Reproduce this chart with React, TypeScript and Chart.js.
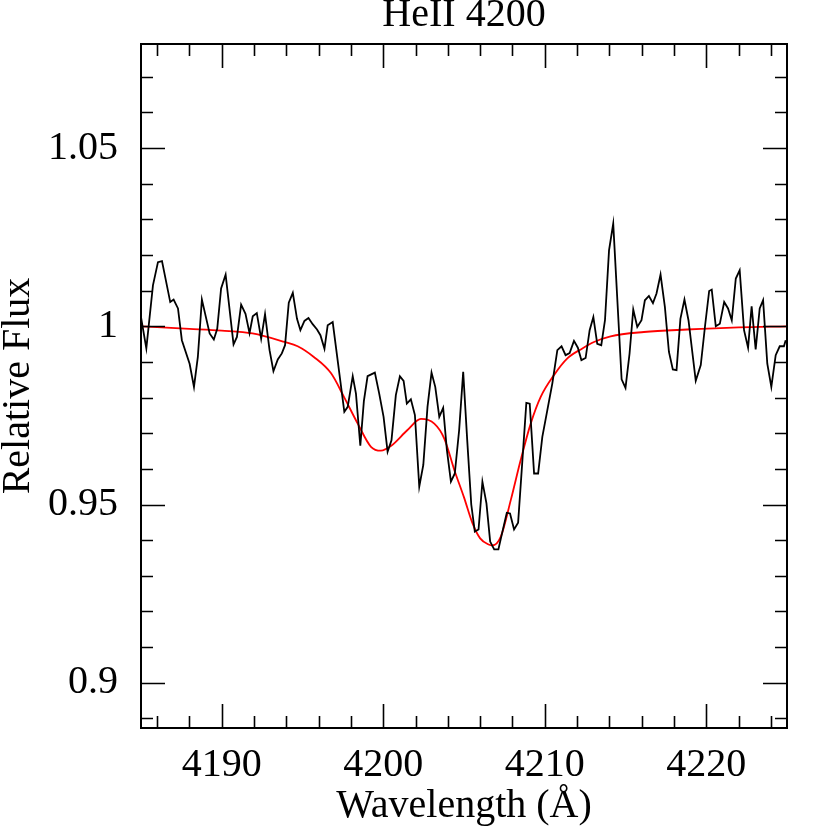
import React, { useEffect, useRef } from "react";
import { Chart, registerables } from "chart.js";

Chart.register(...registerables);

const titleText = "HeII 4200";
const xTitle = "Wavelength (Å)";
const yTitle = "Relative Flux";

const obsWave = [
  4185.0, 4185.33, 4185.74, 4186.05, 4186.3, 4186.81, 4187.02, 4187.29, 4187.53, 4188.01,
  4188.28, 4188.52, 4188.77, 4189.25, 4189.51, 4189.72, 4189.96, 4190.24, 4190.73, 4190.94,
  4191.2, 4191.47, 4191.72, 4191.92, 4192.17, 4192.44, 4192.68, 4192.96, 4193.2, 4193.47,
  4193.72, 4193.92, 4194.15, 4194.4, 4194.66, 4194.87, 4195.12, 4195.37, 4195.63, 4195.9,
  4196.11, 4196.36, 4196.56, 4196.87, 4197.59, 4197.8, 4198.11, 4198.31, 4198.58, 4198.8,
  4199.03, 4199.48, 4199.75, 4200.02, 4200.27, 4200.51, 4200.78, 4201.03, 4201.26, 4201.46,
  4201.71, 4201.96, 4202.23, 4202.48, 4202.74, 4202.99, 4203.22, 4203.47, 4203.71, 4203.94,
  4204.19, 4204.43, 4204.7, 4204.95, 4205.2, 4205.45, 4205.67, 4205.9, 4206.14, 4206.39,
  4206.62, 4206.87, 4207.13, 4207.38, 4207.65, 4207.85, 4208.1, 4208.35, 4208.86, 4209.07,
  4209.34, 4209.59, 4209.85, 4210.16, 4210.47, 4210.78, 4211.04, 4211.29, 4211.54, 4211.81,
  4212.05, 4212.27, 4212.53, 4212.78, 4213.01, 4213.25, 4213.5, 4213.73, 4213.98, 4214.24,
  4214.76, 4215.0, 4215.25, 4215.48, 4215.73, 4215.99, 4216.2, 4216.45, 4216.7, 4216.92,
  4217.17, 4217.44, 4217.69, 4217.93, 4218.16, 4218.4, 4218.65, 4218.9, 4219.35, 4219.66,
  4219.93, 4220.18, 4220.34, 4220.59, 4220.84, 4221.11, 4221.35, 4221.58, 4221.83, 4222.07,
  4222.34, 4222.59, 4222.81, 4223.06, 4223.31, 4223.52, 4223.78, 4224.03, 4224.3, 4224.55,
  4224.81, 4224.92,
];

const obsFlux = [
  1.0026, 0.9938, 1.0115, 1.018, 1.0183, 1.0068, 1.0075, 1.005, 0.9961, 0.9895,
  0.983, 0.9914, 1.0075, 0.998, 0.9963, 0.9993, 1.0106, 1.0145, 0.9949, 0.997,
  1.0061, 1.0035, 0.9981, 1.0028, 1.0037, 0.9965, 1.0034, 0.9933, 0.9874, 0.9907,
  0.9924, 0.9947, 1.0066, 1.0094, 1.0021, 0.9989, 1.0015, 1.0023, 1.0006, 0.9991,
  0.9975, 0.9937, 1.0003, 1.0012, 0.976, 0.9774, 0.986, 0.9811, 0.9665, 0.979,
  0.986, 0.987, 0.9811, 0.9746, 0.9648, 0.968, 0.9807, 0.986, 0.9847, 0.9783,
  0.9795, 0.9751, 0.955, 0.9611, 0.9774, 0.987, 0.983, 0.9746, 0.9771, 0.9653,
  0.9564, 0.9587, 0.9709, 0.9872, 0.968, 0.95, 0.9424, 0.943, 0.9564, 0.9503,
  0.9396, 0.9374, 0.9374, 0.9424, 0.9477, 0.9475, 0.943, 0.9449, 0.9785, 0.9783,
  0.9587, 0.9587, 0.969, 0.9765, 0.984, 0.9933, 0.9944, 0.9919, 0.9925, 0.9959,
  0.994, 0.9905, 0.9911, 0.9989, 1.0026, 0.9951, 0.9947, 1.0017, 1.0213, 1.0288,
  0.9851, 0.9827, 0.9923, 1.0047, 0.9998, 1.0017, 1.0073, 1.0085, 1.0065, 1.0092,
  1.0145, 1.0054, 0.9928, 0.9879, 0.9877, 1.0021, 1.0075, 1.0017, 0.9847, 0.9891,
  1.0003, 1.0099, 1.0103, 1.0, 1.0007, 1.0068, 1.005, 1.0017, 1.0134, 1.0157,
  0.9989, 0.994, 1.0056, 0.9935, 1.005, 1.0073, 0.9895, 0.983, 0.9919, 0.9944,
  0.9944, 0.9961,
];

const modelWave = [
  4185.0, 4188.0, 4190.0, 4191.9, 4193.9, 4194.7, 4195.7, 4196.77, 4197.59, 4198.42,
  4199.24, 4199.86, 4200.47, 4201.5, 4202.33, 4203.16, 4203.78, 4204.4, 4205.0, 4205.53,
  4206.0, 4206.56, 4206.75, 4207.28, 4207.9, 4208.51, 4209.13, 4209.75, 4210.57, 4211.4,
  4212.33, 4213.05, 4214.08, 4216.14, 4218.82, 4222.0, 4225.0,
];

const modelFlux = [
  1.0, 0.9993, 0.9988, 0.998, 0.9956, 0.9944, 0.9914, 0.9868, 0.98, 0.9727,
  0.9662, 0.9651, 0.9664, 0.9709, 0.974, 0.9727, 0.9685, 0.9597, 0.952, 0.9447,
  0.9405, 0.9387, 0.9385, 0.941, 0.9513, 0.9625, 0.9727, 0.9802, 0.9863, 0.991,
  0.9938, 0.9956, 0.9972, 0.9984, 0.9991, 0.9997, 1.0,
];

const xMin = 4185;
const xMax = 4225;
const yMin = 0.8873;
const yMax = 1.0792;

const xMajorTicks = [4190, 4200, 4210, 4220];
const xMinorTicks = [
  4186, 4188, 4190, 4192, 4194, 4196, 4198, 4200, 4202, 4204, 4206, 4208, 4210, 4212,
  4214, 4216, 4218, 4220, 4222, 4224,
];
const yMajorTicks = [0.9, 0.95, 1.0, 1.05];
const yTickLabels = ["0.9", "0.95", "1", "1.05"];
const yMinorTicks = [
  0.89, 0.9, 0.91, 0.92, 0.93, 0.94, 0.95, 0.96, 0.97, 0.98, 0.99, 1.0, 1.01, 1.02, 1.03,
  1.04, 1.05, 1.06, 1.07,
];

const FONT = "'Liberation Serif', 'Times New Roman', serif";
const FS = 40;

const framePlugin = {
  id: "frameTicks",
  afterDatasetsDraw(chart: any) {
    const { ctx, chartArea: a, scales } = chart;
    const x = scales.x;
    const y = scales.y;
    ctx.save();
    ctx.strokeStyle = "#000";
    ctx.lineWidth = 1.6;
    ctx.beginPath();
    for (const v of xMinorTicks) {
      const px = Math.round(x.getPixelForValue(v)) + 0.5;
      const len = xMajorTicks.includes(v) ? 24 : 12;
      ctx.moveTo(px, a.bottom);
      ctx.lineTo(px, a.bottom - len);
      ctx.moveTo(px, a.top);
      ctx.lineTo(px, a.top + len);
    }
    for (const v of yMinorTicks) {
      const py = Math.round(y.getPixelForValue(v)) + 0.5;
      const len = yMajorTicks.some((m) => Math.abs(m - v) < 1e-6) ? 24 : 12;
      ctx.moveTo(a.left, py);
      ctx.lineTo(a.left + len, py);
      ctx.moveTo(a.right, py);
      ctx.lineTo(a.right - len, py);
    }
    ctx.stroke();
    ctx.lineWidth = 2;
    ctx.strokeRect(a.left, a.top, a.right - a.left, a.bottom - a.top);
    ctx.restore();
  },
};

export default function App() {
  const ref = useRef<HTMLCanvasElement | null>(null);

  useEffect(() => {
    if (!ref.current) return;
    Chart.defaults.color = "#000";
    const chart = new Chart(ref.current, {
      type: "line",
      data: {
        datasets: [
          {
            label: "Observed",
            data: obsWave.map((w, i) => ({ x: w, y: obsFlux[i] })),
            borderColor: "#000",
            borderWidth: 1.8,
            pointRadius: 0,
            tension: 0,
          },
          {
            label: "Model",
            data: modelWave.map((w, i) => ({ x: w, y: modelFlux[i] })),
            borderColor: "#ff0000",
            borderWidth: 1.8,
            pointRadius: 0,
            cubicInterpolationMode: "monotone",
          },
        ],
      },
      options: {
        responsive: false,
        animation: false,
        events: [],
        layout: { padding: { left: 0, right: 43, top: 0, bottom: 0 } },
        plugins: {
          legend: { display: false },
          tooltip: { enabled: false },
          title: {
            display: true,
            text: titleText,
            fullSize: false,
            color: "#000",
            font: { family: FONT, size: FS, weight: "normal", lineHeight: 0.75 },
            padding: { top: 0, bottom: 14 },
          },
        },
        scales: {
          x: {
            type: "linear",
            min: xMin,
            max: xMax,
            grid: { display: false, drawTicks: false },
            border: { display: false },
            afterBuildTicks: (s: any) => {
              s.ticks = xMajorTicks.map((v) => ({ value: v }));
            },
            ticks: {
              padding: 13,
              maxRotation: 0,
              autoSkip: false,
              font: { family: FONT, size: FS, lineHeight: 1.2 },
              callback: (v: any) => String(v),
            },
            title: {
              display: true,
              text: xTitle,
              font: { family: FONT, size: FS, lineHeight: 1.2 },
              padding: { top: 0, bottom: 0 },
            },
            afterFit: (s: any) => {
              s.height = 102;
            },
          },
          y: {
            type: "linear",
            min: yMin,
            max: yMax,
            grid: { display: false, drawTicks: false },
            border: { display: false },
            afterBuildTicks: (s: any) => {
              s.ticks = yMajorTicks.map((v) => ({ value: v }));
            },
            ticks: {
              padding: 23,
              autoSkip: false,
              font: { family: FONT, size: FS, lineHeight: 0.5 },
              callback: (v: any) => {
                const i = yMajorTicks.findIndex((m) => Math.abs(m - Number(v)) < 1e-6);
                return i >= 0 ? yTickLabels[i] : String(v);
              },
            },
            title: {
              display: true,
              text: yTitle,
              font: { family: FONT, size: FS, lineHeight: 0.9 },
              padding: { top: 0, bottom: 0 },
            },
            afterFit: (s: any) => {
              s.width = 141;
            },
          },
        },
      },
      plugins: [framePlugin],
    });
    return () => chart.destroy();
  }, []);

  return (
    <div style={{ position: "absolute", left: 0, top: 0, width: 830, height: 830, background: "#fff" }}>
      <canvas ref={ref} width={830} height={830} style={{ display: "block" }} />
    </div>
  );
}
